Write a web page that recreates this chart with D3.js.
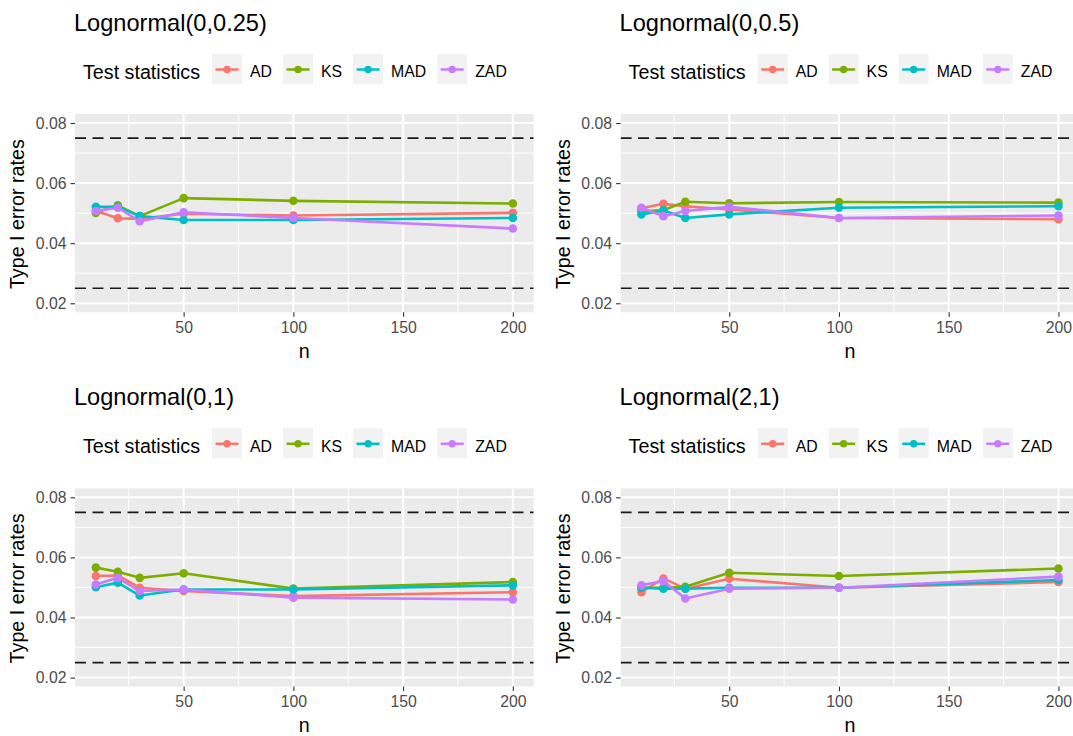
<!DOCTYPE html>
<html>
<head>
<meta charset="utf-8">
<script src="https://cdn.jsdelivr.net/npm/d3@7"></script>
<style>
  html, body { margin: 0; padding: 0; background: #fff; }
  svg { display: block; font-family: "Liberation Sans", Arial, sans-serif; }
</style>
</head>
<body>
<svg id="chart" width="1073" height="736"></svg>
<script>
// ---------- data ----------
const nValues = [10, 20, 30, 50, 100, 200];
const seriesNames = ["AD", "KS", "MAD", "ZAD"];
const seriesColors = ["#F8766D", "#7CAE00", "#00BFC4", "#C77CFF"];
const panelTitles = ["Lognormal(0,0.25)", "Lognormal(0,0.5)", "Lognormal(0,1)", "Lognormal(2,1)"];
const xTicks = [50, 100, 150, 200];
const xMinorTicks = [25, 75, 125, 175];
const yTicks = [0.02, 0.04, 0.06, 0.08];
const yMinorTicks = [0.03, 0.05, 0.07];
const refLines = [0.025, 0.075];
const yLimits = [0.02, 0.08];
const xLabel = "n";
const yLabel = "Type I error rates";
const legendTitle = "Test statistics";

// Lognormal(0,0.25)
const p1_AD  = [0.0507, 0.0483, 0.0481, 0.0498, 0.0492, 0.0501];
const p1_KS  = [0.0501, 0.0526, 0.0490, 0.0550, 0.0541, 0.0532];
const p1_MAD = [0.0521, 0.0521, 0.0490, 0.0477, 0.0477, 0.0484];
const p1_ZAD = [0.0507, 0.0518, 0.0473, 0.0503, 0.0484, 0.0449];
// Lognormal(0,0.5)
const p2_AD  = [0.0516, 0.0531, 0.0523, 0.0512, 0.0484, 0.0480];
const p2_KS  = [0.0505, 0.0510, 0.0538, 0.0533, 0.0537, 0.0535];
const p2_MAD = [0.0496, 0.0509, 0.0484, 0.0496, 0.0518, 0.0523];
const p2_ZAD = [0.0518, 0.0490, 0.0507, 0.0521, 0.0484, 0.0492];
// Lognormal(0,1)
const p3_AD  = [0.0538, 0.0540, 0.0499, 0.0488, 0.0471, 0.0484];
const p3_KS  = [0.0566, 0.0552, 0.0532, 0.0547, 0.0496, 0.0518];
const p3_MAD = [0.0501, 0.0516, 0.0473, 0.0493, 0.0493, 0.0507];
const p3_ZAD = [0.0510, 0.0532, 0.0488, 0.0493, 0.0466, 0.0460];
// Lognormal(2,1)
const p4_AD  = [0.0484, 0.0530, 0.0496, 0.0529, 0.0499, 0.0518];
const p4_KS  = [0.0499, 0.0499, 0.0502, 0.0549, 0.0538, 0.0563];
const p4_MAD = [0.0499, 0.0496, 0.0496, 0.0499, 0.0499, 0.0525];
const p4_ZAD = [0.0507, 0.0521, 0.0463, 0.0496, 0.0499, 0.0536];

const panelData = [
  [p1_AD, p1_KS, p1_MAD, p1_ZAD],
  [p2_AD, p2_KS, p2_MAD, p2_ZAD],
  [p3_AD, p3_KS, p3_MAD, p3_ZAD],
  [p4_AD, p4_KS, p4_MAD, p4_ZAD]
];

// ---------- layout ----------
const colOffset = 545.6, rowOffset = 374.3;
const plotLeft = 75, plotTop = 114, plotW = 458.7, plotH = 198.3;
const fsTitle = 23.6, fsBase = 19.7, fsSmall = 15.8;

const svg = d3.select("#chart");

// expand like ggplot (5%)
const xExt = d3.extent(nValues), xPad = (xExt[1] - xExt[0]) * 0.05;
const yPad = (yLimits[1] - yLimits[0]) * 0.05;
const x = d3.scaleLinear().domain([xExt[0] - xPad, xExt[1] + xPad]).range([0, plotW]);
const y = d3.scaleLinear().domain([yLimits[0] - yPad, yLimits[1] + yPad]).range([plotH, 0]);

svg.append("defs").append("clipPath").attr("id", "pclip")
  .append("rect").attr("width", plotW).attr("height", plotH);

panelTitles.forEach((title, pi) => {
  const col = pi % 2, row = Math.floor(pi / 2);
  const g = svg.append("g").attr("transform", `translate(${col * colOffset},${row * rowOffset})`);

  // title
  g.append("text").attr("x", 74).attr("y", 30.7)
    .attr("font-size", fsTitle).attr("fill", "#000").text(title);

  // legend
  const lg = g.append("g");
  const lt = lg.append("text").attr("x", 83).attr("y", 78.7)
    .attr("font-size", fsBase).attr("fill", "#000").text(legendTitle);
  let cx = 83 + lt.node().getComputedTextLength() + 12;
  seriesNames.forEach((s, si) => {
    const kg = lg.append("g").attr("transform", `translate(${cx},54)`);
    kg.append("rect").attr("width", 30).attr("height", 30).attr("fill", "#F2F2F2");
    kg.append("line").attr("x1", 3.5).attr("x2", 26.5).attr("y1", 15.5).attr("y2", 15.5)
      .attr("stroke", seriesColors[si]).attr("stroke-width", 2.5);
    kg.append("circle").attr("cx", 15).attr("cy", 15.5).attr("r", 3.7).attr("fill", seriesColors[si]);
    const t = lg.append("text").attr("x", cx + 38).attr("y", 77.3)
      .attr("font-size", fsSmall).attr("fill", "#000").text(s);
    cx += 38 + t.node().getComputedTextLength() + 11;
  });

  // plot panel
  const p = g.append("g").attr("transform", `translate(${plotLeft},${plotTop})`);
  p.append("rect").attr("width", plotW).attr("height", plotH).attr("fill", "#EBEBEB");
  const inner = p.append("g").attr("clip-path", "url(#pclip)");

  // grid
  inner.selectAll(".ymin").data(yMinorTicks).join("line")
    .attr("x1", 0).attr("x2", plotW).attr("y1", d => y(d)).attr("y2", d => y(d))
    .attr("stroke", "#fff").attr("stroke-width", 1);
  inner.selectAll(".xmin").data(xMinorTicks).join("line")
    .attr("y1", 0).attr("y2", plotH).attr("x1", d => x(d)).attr("x2", d => x(d))
    .attr("stroke", "#fff").attr("stroke-width", 1);
  inner.selectAll(".ymaj").data(yTicks).join("line")
    .attr("x1", 0).attr("x2", plotW).attr("y1", d => y(d)).attr("y2", d => y(d))
    .attr("stroke", "#fff").attr("stroke-width", 2);
  inner.selectAll(".xmaj").data(xTicks).join("line")
    .attr("y1", 0).attr("y2", plotH).attr("x1", d => x(d)).attr("x2", d => x(d))
    .attr("stroke", "#fff").attr("stroke-width", 2);

  // reference lines
  inner.selectAll(".ref").data(refLines).join("line")
    .attr("x1", 0).attr("x2", plotW).attr("y1", d => y(d)).attr("y2", d => y(d))
    .attr("stroke", "#1a1a1a").attr("stroke-width", 1.7).attr("stroke-dasharray", "11,6.5");

  // series lines
  const line = d3.line().x((d, i) => x(nValues[i])).y(d => y(d));
  panelData[pi].forEach((vals, si) => {
    inner.append("path").datum(vals).attr("d", line)
      .attr("fill", "none").attr("stroke", seriesColors[si]).attr("stroke-width", 2.6)
      .attr("stroke-linejoin", "round");
  });
  panelData[pi].forEach((vals, si) => {
    inner.selectAll(null).data(vals).join("circle")
      .attr("cx", (d, i) => x(nValues[i])).attr("cy", d => y(d)).attr("r", 4.3)
      .attr("fill", seriesColors[si]);
  });

  // axes
  const xAxis = p.append("g").attr("transform", `translate(0,${plotH})`)
    .call(d3.axisBottom(x).tickValues(xTicks).tickSize(4.5).tickPadding(5).tickFormat(d3.format("d")));
  const yAxis = p.append("g")
    .call(d3.axisLeft(y).tickValues(yTicks).tickSize(4.5).tickPadding(4).tickFormat(d3.format(".2f")));
  [xAxis, yAxis].forEach(a => {
    a.select(".domain").remove();
    a.selectAll(".tick line").attr("stroke", "#333").attr("stroke-width", 1.1);
    a.selectAll(".tick text").attr("fill", "#4D4D4D").attr("font-size", fsSmall)
      .attr("font-family", "Liberation Sans, Arial, sans-serif");
  });

  // axis titles
  p.append("text").attr("x", plotW / 2).attr("y", 243.5)
    .attr("text-anchor", "middle").attr("font-size", fsBase).attr("fill", "#000").text(xLabel);
  p.append("text").attr("transform", `translate(${24 - plotLeft},${plotH / 2 + 1}) rotate(-90)`)
    .attr("text-anchor", "middle").attr("font-size", fsBase).attr("fill", "#000").text(yLabel);
});
</script>
</body>
</html>
